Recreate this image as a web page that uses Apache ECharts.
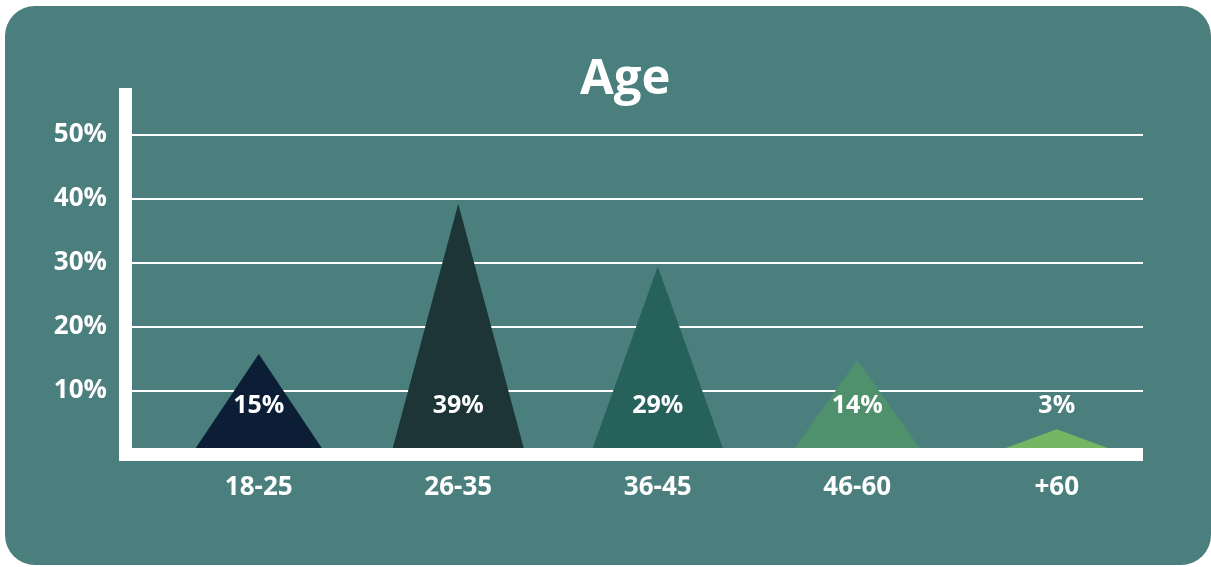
<!DOCTYPE html>
<html>
<head>
<meta charset="utf-8">
<script src="https://cdn.jsdelivr.net/npm/echarts@6/dist/echarts.min.js"></script>
<style>
html,body{margin:0;padding:0;background:#ffffff;}
#chart{width:1211px;height:567px;}
</style>
</head>
<body>
<div id="chart"></div>
<script>
// ---- data ----
const categories = ['18-25', '26-35', '36-45', '46-60', '+60'];
const values = [15, 39, 29, 14, 3];
const yTicks = [10, 20, 30, 40, 50];
const titleText = 'Age';

// ---- styles ----
const colors = ['#0B1E36', '#1D3537', '#27615C', '#4F916D', '#74B663'];
const triWidths = [126, 131, 130, 125, 102];
const FONT = 'Open Sans';

const chart = echarts.init(document.getElementById('chart'), null, {renderer: 'canvas'});

const option = {
  backgroundColor: 'transparent',
  animation: false,
  graphic: [{
    type: 'rect', z: -10, silent: true,
    shape: {x: 5, y: 6, width: 1206, height: 559, r: 30},
    style: {fill: '#4A7F7E'}
  }],
  title: {
    text: titleText, left: 575, top: 51,
    textStyle: {color: '#ffffff', fontFamily: FONT, fontWeight: 'bold', fontSize: 49}
  },
  grid: [
    // axis lines frame
    {left: 125.5, right: 68, top: 94.5, bottom: 112.5},
    // gridlines + y labels
    {left: 132, right: 68, top: 135, bottom: 112.5},
    // bars
    {left: 159, right: 54.5, top: 135, bottom: 119}
  ],
  xAxis: [
    {gridIndex: 0, type: 'value', min: 0, max: 1, z: 10,
      axisLine: {show: true, lineStyle: {color: '#ffffff', width: 13, cap: 'butt'}},
      axisTick: {show: false}, axisLabel: {show: false}, splitLine: {show: false}},
    {gridIndex: 1, type: 'value', min: 0, max: 1, show: false},
    {gridIndex: 2, type: 'category', data: categories,
      axisLine: {show: false}, axisTick: {show: false},
      axisLabel: {color: '#ffffff', fontFamily: FONT, fontWeight: 'bold', fontSize: 26, margin: 27}}
  ],
  yAxis: [
    {gridIndex: 0, type: 'value', min: 0, max: 1, z: 10,
      axisLine: {show: true, lineStyle: {color: '#ffffff', width: 13, cap: 'square'}},
      axisTick: {show: false}, axisLabel: {show: false}, splitLine: {show: false}},
    {gridIndex: 1, type: 'value', min: 0, max: yTicks[yTicks.length - 1], interval: yTicks[1] - yTicks[0],
      axisLine: {show: false}, axisTick: {show: false},
      axisLabel: {color: '#ffffff', fontFamily: FONT, fontWeight: 'bold', fontSize: 26, margin: 25,
        formatter: v => (yTicks.indexOf(v) >= 0 ? v + '%' : '')},
      splitLine: {show: true, lineStyle: {color: '#ffffff', width: 2}}},
    {gridIndex: 2, type: 'value', min: 0, max: yTicks[yTicks.length - 1], show: false}
  ],
  series: [{
    type: 'pictorialBar',
    xAxisIndex: 2, yAxisIndex: 2,
    symbol: 'triangle',
    symbolPosition: 'start',
    data: values.map((v, i) => ({
      value: v,
      symbolSize: [triWidths[i], '100%'],
      itemStyle: {color: colors[i]}
    })),
    label: {
      show: true, position: 'insideBottom', distance: 30,
      color: '#ffffff', fontFamily: FONT, fontWeight: 'bold', fontSize: 25,
      formatter: p => p.value + '%'
    },
    z: 3
  }]
};
chart.setOption(option);
</script>
</body>
</html>
